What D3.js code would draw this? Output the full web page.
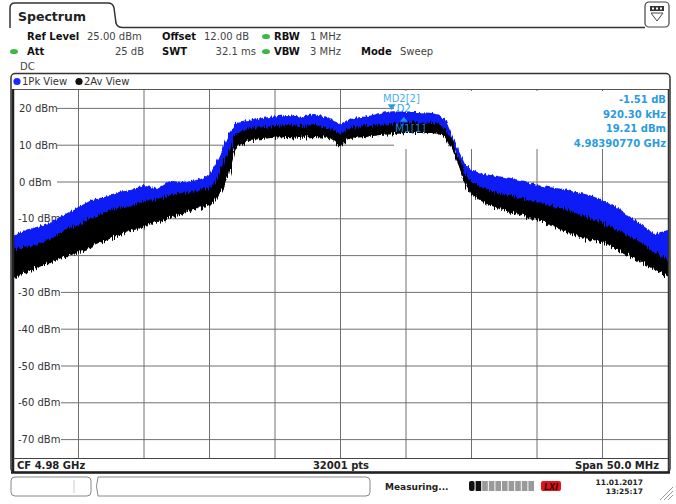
<!DOCTYPE html>
<html>
<head>
<meta charset="utf-8">
<script src="https://cdn.jsdelivr.net/npm/d3@7"></script>
<style>
body{margin:0;background:#fff;}
svg{display:block;font-family:"DejaVu Sans",Verdana,sans-serif;}
</style>
</head>
<body>
<svg id="chart" width="676" height="504"></svg>
<script>
// frequency offset from CF (MHz) and trace envelopes (dBm)
const freqMHz = [-25,-24,-23,-22,-21,-20,-19,-18,-17,-16,-15,-14,-13,-12,-11,-10,-9.5,-9,-8.5,-8,-7,-6,-5,-4,-3,-2,-1,-0.5,0,0.5,1,2,3,4,5,6,7,7.5,8,8.5,9,9.5,10,11,12,13,14,15,16,17,18,19,20,21,22,23,24,25];
const pkTop = [-14.7,-13.0,-12.0,-10.6,-8.7,-6.8,-4.9,-4.1,-2.7,-2.2,-0.8,-1.9,0.3,0.0,0.5,1.9,5.2,9.2,13.3,16.0,16.6,17.4,17.9,18.2,17.7,18.5,17.7,16.6,15.8,16.8,17.4,17.9,18.75,19.2,19.0,19.0,18.75,18.2,17.1,12.8,8.7,4.9,3.3,2.2,1.6,1.1,0.3,-0.8,-1.4,-1.9,-2.7,-3.5,-4.9,-6.8,-9.2,-11.7,-14.1,-13.0];
const avTop = [-18.5,-17.7,-16.8,-15.2,-13.0,-11.7,-9.8,-8.2,-7.1,-6.5,-5.2,-4.6,-3.5,-3.0,-2.4,-1.6,0.5,4.9,8.7,13.0,14.7,14.9,15.2,15.5,15.2,15.5,14.7,13.9,13.0,14.4,14.9,15.2,15.5,15.8,16.0,16.3,16.0,15.8,14.4,11.4,6.8,2.4,0.3,-1.9,-3.0,-3.8,-4.6,-5.4,-6.3,-7.3,-8.7,-9.8,-10.9,-12.8,-14.7,-16.6,-19.0,-21.7];
const avBottom = [-25.8,-24.5,-23.1,-21.7,-20.4,-19.0,-17.7,-16.0,-14.7,-13.3,-12.2,-10.9,-9.8,-8.4,-7.3,-6.3,-4.9,-2.2,2.2,9.2,11.4,11.7,12.0,12.2,12.0,12.2,12.0,11.4,9.8,11.4,12.0,12.2,12.8,13.0,13.3,13.3,13.3,13.0,12.2,9.0,4.6,-0.3,-3.5,-5.7,-7.1,-8.2,-9.2,-10.3,-11.7,-13.3,-14.7,-15.8,-16.6,-18.2,-20.1,-22.0,-23.9,-25.8];

const yTicks = [20,10,0,-10,-20,-30,-40,-50,-60,-70];
const xGrid = [-20,-15,-10,-5,0,5,10,15,20];
const markerInfo = ["-1.51 dB","920.30 kHz","19.21 dBm","4.98390770 GHz"];
const m1 = {f: 3.9077, level: 19.21};
const d2 = {df: 0.9203, dl: -1.51};

const svg = d3.select("#chart");
const x = d3.scaleLinear().domain([-25,25]).range([13,668]);
const y = d3.scaleLinear().domain([-75,25]).range([458,90]);
const gridCol = "#707070";

// ---------- top header ----------
svg.append("path")
  .attr("d","M10,28 L10,8 Q10,3 15,3 L108,3 Q113,3 114,8 L116,23 Q117,27.5 123,27.5 L645,27.5")
  .attr("fill","none").attr("stroke","#333").attr("stroke-width",1.5);
svg.append("text").attr("x",18).attr("y",21).attr("font-size",12.5).attr("font-weight","bold").attr("fill","#222").text("Spectrum");
svg.append("rect").attr("x",645).attr("y",2).attr("width",24).attr("height",25).attr("rx",4)
  .attr("fill","#fff").attr("stroke","#444").attr("stroke-width",1.2);
svg.append("rect").attr("x",650).attr("y",6).attr("width",14).attr("height",5).attr("fill","#333");
[652,656,660].forEach(v=>svg.append("rect").attr("x",v).attr("y",7.5).attr("width",2).attr("height",2).attr("fill","#fff"));
svg.append("path").attr("d","M651,13 L663,13 L657,21 Z").attr("fill","none").attr("stroke","#444").attr("stroke-width",1);

const info = svg.append("g").attr("font-size",10).attr("fill","#222");
const t = (xx,yy,s,bold,anchor) => info.append("text").attr("x",xx).attr("y",yy)
  .attr("font-weight",bold?"bold":"normal").attr("text-anchor",anchor||"start").attr("fill",bold?"#111":"#444").text(s);
t(27,40,"Ref Level",true); t(87,40,"25.00 dBm");
t(162,40,"Offset",true); t(204,40,"12.00 dB");
t(274,40,"RBW",true); t(310,40,"1 MHz");
t(27,55,"Att",true); t(144,55,"25 dB",false,"end");
t(162,55,"SWT",true); t(256,55,"32.1 ms",false,"end");
t(274,55,"VBW",true); t(310,55,"3 MHz");
t(361,55,"Mode",true); t(400,55,"Sweep");
t(20,70,"DC");
[[266,36.5],[266,51.5],[14,51.5]].forEach(p=>svg.append("ellipse").attr("cx",p[0]).attr("cy",p[1]).attr("rx",4).attr("ry",2.6).attr("fill","#3cb84a"));

// ---------- window frame ----------
svg.append("rect").attr("x",11).attr("y",73.5).attr("width",659).attr("height",399).attr("rx",4)
  .attr("fill","#fff").attr("stroke","#333").attr("stroke-width",1.5);
svg.append("circle").attr("cx",17).attr("cy",81.5).attr("r",3.6).attr("fill","#1a2bff");
svg.append("text").attr("x",22).attr("y",85).attr("font-size",10).attr("fill","#333").text("1Pk View");
svg.append("circle").attr("cx",79).attr("cy",81.5).attr("r",3.6).attr("fill","#111");
svg.append("text").attr("x",84).attr("y",85).attr("font-size",10).attr("fill","#333").text("2Av View");

// ---------- grid ----------
const grid = svg.append("g");
grid.selectAll(".vg").data(xGrid).enter().append("line")
  .attr("x1",d=>x(d)).attr("x2",d=>x(d)).attr("y1",y(25)).attr("y2",y(-75))
  .attr("stroke",gridCol).attr("stroke-width",1);
const yl = grid.selectAll(".yl").data(yTicks).enter().append("g")
  .attr("transform",d=>"translate(0,"+y(d)+")");
yl.append("text").attr("x",d=>d<0?18:19).attr("y",3.5).attr("font-size",10).attr("fill","#333")
  .text(d=>d+" dBm");
yl.append("line").attr("x1",d=>d<0?61:57).attr("x2",668).attr("stroke",gridCol).attr("stroke-width",1);
// marker table area hides grid
svg.append("rect").attr("x",394).attr("y",y(25)+1).attr("width",274).attr("height",58).attr("fill","#fff");

// ---------- traces ----------
svg.append("clipPath").attr("id","plotclip").append("rect")
  .attr("x",x(-25)).attr("y",y(25)).attr("width",x(25)-x(-25)).attr("height",y(-75)-y(25));
const defs = svg.append("defs");
const f1 = defs.append("filter").attr("id","noiseA").attr("x","-2%").attr("y","-10%").attr("width","104%").attr("height","120%");
f1.append("feTurbulence").attr("type","fractalNoise").attr("baseFrequency","0.9 0.03").attr("numOctaves",2).attr("seed",3).attr("result","n");
f1.append("feDisplacementMap").attr("in","SourceGraphic").attr("in2","n").attr("scale",9).attr("xChannelSelector","A").attr("yChannelSelector","R");
const f2 = defs.append("filter").attr("id","noiseB").attr("x","-2%").attr("y","-10%").attr("width","104%").attr("height","120%");
f2.append("feTurbulence").attr("type","fractalNoise").attr("baseFrequency","0.6 0.03").attr("numOctaves",2).attr("seed",7).attr("result","n");
f2.append("feDisplacementMap").attr("in","SourceGraphic").attr("in2","n").attr("scale",5).attr("xChannelSelector","A").attr("yChannelSelector","R");

const rows = freqMHz.map((f,i)=>({f, pk:pkTop[i], at:avTop[i], ab:avBottom[i]}));
const traces = svg.append("g").attr("clip-path","url(#plotclip)");
traces.append("g").attr("filter","url(#noiseB)").append("path").datum(rows)
  .attr("d", d3.area().x(d=>x(d.f)).y0(d=>(y(d.at)+y(d.ab))/2).y1(d=>y(d.pk)))
  .attr("fill","#0d1cf5");
traces.append("g").attr("filter","url(#noiseA)").append("path").datum(rows)
  .attr("d", d3.area().x(d=>x(d.f)).y0(d=>y(d.ab)).y1(d=>y(d.at)))
  .attr("fill","#000");

// ---------- markers ----------
const mx = x(m1.f), my = y(m1.level);
svg.append("path").attr("d",`M${mx-4},${my-7} L${mx+4},${my-7} L${mx},${my-1} Z`).attr("fill","#2a9be0");
svg.append("text").attr("x",mx+5).attr("y",my+1).attr("font-size",10).attr("fill","#3aa5e8").text("D2");
svg.append("text").attr("x",383).attr("y",102).attr("font-size",10).attr("fill","#4aaeea").text("MD2[2]");
const dx = x(m1.f+d2.df), dy = y(m1.level+d2.dl);
svg.append("path").attr("d",`M${dx},${dy} L${dx+4},${dy+5} L${dx-4},${dy+5} Z`).attr("fill","#1e90d0");
svg.append("text").attr("x",395).attr("y",132).attr("font-size",10.5).attr("fill","#1a86c4").text("M1[1]");
svg.append("g").selectAll("text").data(markerInfo).enter().append("text")
  .attr("x",666).attr("y",(d,i)=>103+i*14.5).attr("text-anchor","end")
  .attr("font-size",10).attr("font-weight","bold").attr("fill","#2a9be0").text(d=>d);

// ---------- plot borders / footer ----------
svg.append("line").attr("x1",13).attr("x2",668).attr("y1",89.5).attr("y2",89.5).attr("stroke","#555").attr("stroke-width",1.2);
svg.append("line").attr("x1",13).attr("x2",13).attr("y1",89).attr("y2",472).attr("stroke","#222").attr("stroke-width",2.5);
svg.append("line").attr("x1",668.5).attr("x2",668.5).attr("y1",89).attr("y2",472).attr("stroke","#333").attr("stroke-width",1.5);
svg.append("line").attr("x1",13).attr("x2",668).attr("y1",458.5).attr("y2",458.5).attr("stroke","#444").attr("stroke-width",1);
svg.append("line").attr("x1",11).attr("x2",670).attr("y1",472.5).attr("y2",472.5).attr("stroke","#222").attr("stroke-width",2.5);
const foot = svg.append("g").attr("font-size",10).attr("font-weight","bold").attr("fill","#222");
foot.append("text").attr("x",17).attr("y",469).text("CF 4.98 GHz");
foot.append("text").attr("x",341).attr("y",469).attr("text-anchor","middle").text("32001 pts");
foot.append("text").attr("x",659).attr("y",469).attr("text-anchor","end").text("Span 50.0 MHz");

// ---------- status bar ----------
svg.append("rect").attr("x",11).attr("y",477).attr("width",80).attr("height",19).attr("rx",4).attr("fill","#fff").attr("stroke","#888");
svg.append("line").attr("x1",74).attr("x2",74).attr("y1",480).attr("y2",493).attr("stroke","#ccc");
svg.append("path").attr("d","M98,477 Q95,486 98,496 L366,496 Q370,496 370,492 L370,481 Q370,477 366,477 Z").attr("fill","#fff").attr("stroke","#888");
svg.append("text").attr("x",385).attr("y",490).attr("font-size",9).attr("font-weight","bold").attr("fill","#222").text("Measuring...");
d3.range(10).forEach(i=>svg.append("rect").attr("x",469+i*6.6).attr("y",481).attr("width",5.6).attr("height",10).attr("rx",i==0?2:0)
  .attr("fill",i<2?"#111":"#9a9a9a"));
svg.append("rect").attr("x",541).attr("y",481).attr("width",20).attr("height",10).attr("rx",2).attr("fill","#e0151b");
svg.append("text").attr("x",551).attr("y",489.5).attr("text-anchor","middle").attr("font-size",8).attr("font-weight","bold").attr("font-style","italic").attr("fill","#3a0000").text("LXI");
svg.append("text").attr("x",643).attr("y",485).attr("text-anchor","end").attr("font-size",7.5).attr("font-weight","bold").attr("fill","#222").text("11.01.2017");
svg.append("text").attr("x",643).attr("y",494).attr("text-anchor","end").attr("font-size",7.5).attr("font-weight","bold").attr("fill","#222").text("13:25:17");
[0,4,8].forEach(o=>svg.append("line").attr("x1",660+o).attr("y1",500).attr("x2",673).attr("y2",487+o).attr("stroke","#999"));
</script>
</body>
</html>
